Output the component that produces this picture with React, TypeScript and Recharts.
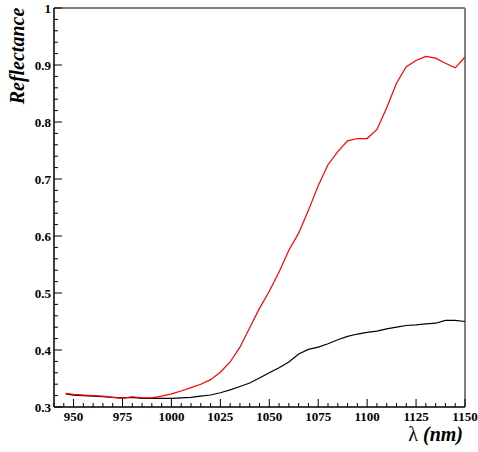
import React from 'react';
import { LineChart, Line, XAxis, YAxis, ReferenceLine } from 'recharts';

const wavelengths = [946, 950, 955, 960, 965, 970, 975, 980, 985, 990, 995, 1000, 1005, 1010, 1015, 1020, 1025, 1030, 1035, 1040, 1045, 1050, 1055, 1060, 1065, 1070, 1075, 1080, 1085, 1090, 1095, 1100, 1105, 1110, 1115, 1120, 1125, 1130, 1135, 1140, 1145, 1150];

const redReflectance = [0.324, 0.322, 0.321, 0.320, 0.319, 0.317, 0.315, 0.318, 0.316, 0.316, 0.319, 0.323, 0.328, 0.334, 0.340, 0.348, 0.361, 0.379, 0.405, 0.439, 0.473, 0.503, 0.537, 0.575, 0.605, 0.645, 0.688, 0.725, 0.748, 0.767, 0.771, 0.771, 0.787, 0.825, 0.868, 0.897, 0.908, 0.915, 0.912, 0.903, 0.895, 0.914];

const blackReflectance = [0.323, 0.321, 0.320, 0.319, 0.318, 0.317, 0.316, 0.317, 0.315, 0.315, 0.315, 0.315, 0.316, 0.317, 0.319, 0.321, 0.325, 0.330, 0.336, 0.342, 0.351, 0.360, 0.369, 0.379, 0.393, 0.401, 0.405, 0.411, 0.418, 0.424, 0.428, 0.431, 0.433, 0.437, 0.440, 0.443, 0.444, 0.446, 0.447, 0.452, 0.452, 0.450];

const xMajorTicks = [950, 975, 1000, 1025, 1050, 1075, 1100, 1125, 1150];
const yMajorTicks = [0.3, 0.4, 0.5, 0.6, 0.7, 0.8, 0.9, 1];

const X_MIN = 940;
const X_MAX = 1150;
const Y_MIN = 0.3;
const Y_MAX = 1;

const xTicks: number[] = [];
for (let v = X_MIN; v <= X_MAX; v += 5) xTicks.push(v);
const yTicks: number[] = [];
for (let i = 0; i <= 35; i++) yTicks.push(Math.round((Y_MIN + i * 0.02) * 1000) / 1000);

const data = wavelengths.map((w, i) => ({ w, red: redReflectance[i], black: blackReflectance[i] }));

const FONT = '"Liberation Serif", "DejaVu Serif", serif';

const XTick = (props: any) => {
  const { x, y, payload } = props;
  const v = payload.value;
  const major = xMajorTicks.includes(v);
  return (
    <g>
      <line x1={x} x2={x} y1={y} y2={y - (major ? 8 : 4)} stroke="#000" strokeWidth={1} />
      {major && (
        <text x={x} y={y + 14} textAnchor="middle" fontFamily={FONT} fontWeight="bold" fontSize={13} fill="#000">
          {v}
        </text>
      )}
    </g>
  );
};

const YTick = (props: any) => {
  const { x, y, payload } = props;
  const v = payload.value;
  const major = yMajorTicks.some((m) => Math.abs(m - v) < 1e-6);
  return (
    <g>
      <line x1={x} x2={x + (major ? 8 : 4)} y1={y} y2={y} stroke="#000" strokeWidth={1} />
      {major && (
        <text x={x - 3} y={y} dy="0.35em" textAnchor="end" fontFamily={FONT} fontWeight="bold" fontSize={13} fill="#000">
          {Number(v.toFixed(1)).toString()}
        </text>
      )}
    </g>
  );
};

export default function App() {
  return (
    <div style={{ position: 'absolute', left: 0, top: 0, width: 478, height: 452, background: '#fff' }}>
      <LineChart width={478} height={452} data={data} margin={{ top: 8, right: 13, bottom: 0, left: 0 }}>
        <XAxis
          dataKey="w"
          type="number"
          domain={[X_MIN, X_MAX]}
          ticks={xTicks}
          interval={0}
          tickSize={0}
          tickMargin={0}
          height={45}
          tick={<XTick />}
          tickLine={false}
          axisLine={{ stroke: '#000', strokeWidth: 1.5 }}
          allowDataOverflow
        />
        <YAxis
          type="number"
          domain={[Y_MIN, Y_MAX]}
          ticks={yTicks}
          interval={0}
          tickSize={0}
          tickMargin={0}
          width={54}
          tick={<YTick />}
          tickLine={false}
          axisLine={{ stroke: '#000', strokeWidth: 1.5 }}
          allowDataOverflow
        />
        <ReferenceLine y={Y_MAX} stroke="#000" strokeWidth={1} ifOverflow="visible" />
        <ReferenceLine x={X_MAX} stroke="#808080" strokeWidth={2} ifOverflow="visible" />
        <Line dataKey="black" stroke="#000" strokeWidth={1.2} dot={false} type="linear" isAnimationActive={false} />
        <Line dataKey="red" stroke="#ff0000" strokeWidth={1.2} dot={false} type="linear" isAnimationActive={false} />
      </LineChart>
      <div
        style={{
          position: 'absolute',
          left: 17,
          top: 56,
          transform: 'translate(-50%, -50%) rotate(-90deg)',
          fontFamily: FONT,
          fontWeight: 'bold',
          fontStyle: 'italic',
          fontSize: 20,
          whiteSpace: 'nowrap',
          lineHeight: 1,
        }}
      >
        Reflectance
      </div>
      <div
        style={{
          position: 'absolute',
          right: 15,
          top: 424,
          fontFamily: FONT,
          fontSize: 20,
          whiteSpace: 'nowrap',
          lineHeight: 1,
        }}
      >
        <span>λ </span>
        <span style={{ fontWeight: 'bold', fontStyle: 'italic' }}>(nm)</span>
      </div>
    </div>
  );
}
